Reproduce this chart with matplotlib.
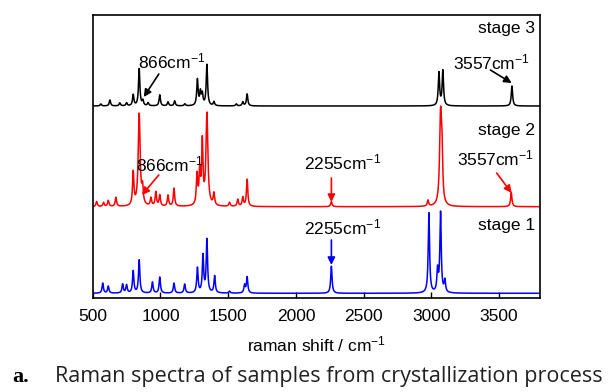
import numpy as np
import matplotlib
matplotlib.use('Agg')
import matplotlib.pyplot as plt

plt.rcParams['font.family'] = ['Liberation Sans', 'DejaVu Sans']
plt.rcParams['mathtext.fontset'] = 'custom'
plt.rcParams['mathtext.rm'] = 'Liberation Sans'
plt.rcParams['mathtext.it'] = 'Liberation Sans'

# peak positions (cm-1) and heights, per stage
blue_pos = [574, 615, 721, 750, 799, 843, 941, 995, 1100, 1179, 1273, 1314, 1343,
            1400, 1510, 1621, 1640, 2262, 2982, 3046, 3068, 3100]
blue_h = [10, 7, 9, 8, 22, 33, 11, 16, 10, 9, 25, 37, 53,
          17, 2, 8, 16, 27, 80, 22, 80, 12]

red_pos = [529, 580, 615, 671, 799, 843, 868, 930, 966, 995, 1056, 1100, 1270, 1290,
           1309, 1343, 1395, 1510, 1571, 1608, 1640, 2262, 2975, 3068, 3078, 3590]
red_h = [5, 4, 6, 9, 33, 92, 16, 8, 14, 11, 11, 18, 30, 32,
         62, 92, 12, 4, 7, 9, 27, 5, 6, 88, 45, 14]

black_pos = [560, 627, 700, 750, 799, 843, 870, 909, 995, 1056, 1105, 1180, 1273,
             1295, 1309, 1343, 1395, 1560, 1608, 1640, 3056, 3085, 3595]
black_h = [2, 6, 3, 3, 11, 37, 5, 3, 11, 4, 5, 2, 26,
           13, 11, 41, 4, 2, 4, 12, 33, 35, 20]

offsets = {'stage 1': 4.4, 'stage 2': 91, 'stage 3': 191.7}


def spectrum(x, pos, h, width=6.0):
    y = np.zeros_like(x)
    for p, a in zip(pos, h):
        w = width * 1.4 if a > 80 else width
        y += a * w ** 2 / ((x - p) ** 2 + w ** 2)
    return y


x = np.arange(500, 3801, 1.0)

fig = plt.figure(figsize=(6.14, 3.92), dpi=100)
ax = fig.add_axes([0.151, 0.2406, 0.728, 0.7211])

ax.plot(x, offsets['stage 1'] + spectrum(x, blue_pos, blue_h), color='#0000ff', lw=1.1)
ax.plot(x, offsets['stage 2'] + spectrum(x, red_pos, red_h), color='#ff0000', lw=1.1)
ax.plot(x, offsets['stage 3'] + spectrum(x, black_pos, black_h), color='black', lw=1.1)

ax.set_xlim(500, 3800)
ax.set_ylim(0, 282.7)
ax.set_xticks([500, 1000, 1500, 2000, 2500, 3000, 3500])
ax.set_yticks([])
ax.tick_params(axis='x', direction='in', length=4, width=1, labelsize=12.5, pad=8)
for s in ax.spines.values():
    s.set_linewidth(1.2)
ax.set_xlabel('raman shift / cm$^{-1}$', fontsize=12.5, labelpad=8)

for lbl, yy in [('stage 3', 269.7), ('stage 2', 167.7), ('stage 1', 71.7)]:
    ax.text(3765, yy, lbl, ha='right', va='center', fontsize=12.5)

cm = 'cm$^{-1}$'
notes = [
    ('866' + cm, (1083, 236.7), (988, 223.7), (877, 200.7), 'black'),
    ('866' + cm, (1069, 133.7), (988, 122.7), (863, 102.7), 'red'),
    ('2255' + cm, (2345, 135.7), (2262, 119.7), (2262, 95.7), 'red'),
    ('2255' + cm, (2345, 70.7), (2262, 57.7), (2262, 32.7), 'blue'),
    ('3557' + cm, (3446, 235.7), (3436, 227.7), (3593, 214.7), 'black'),
    ('3557' + cm, (3471, 139.7), (3482, 124.7), (3593, 104.7), 'red'),
]
for txt, tpos, tail, head, c in notes:
    ax.text(tpos[0], tpos[1], txt, ha='center', va='center', fontsize=12.5)
    ax.annotate('', xy=head, xytext=tail,
                arrowprops=dict(arrowstyle='-|>', color=c, lw=1.2,
                                mutation_scale=11, shrinkA=0, shrinkB=0))

fig.text(12 / 614, 10 / 392, 'a.', fontsize=16, fontweight='bold',
         family=['Liberation Serif', 'DejaVu Serif'], ha='left', va='baseline')
fig.text(55 / 614, 10 / 392, 'Raman spectra of samples from crystallization process',
         fontsize=15.5, family=['Open Sans', 'DejaVu Sans'], color='#222222',
         ha='left', va='baseline')

fig.savefig('out.png', dpi=100)
